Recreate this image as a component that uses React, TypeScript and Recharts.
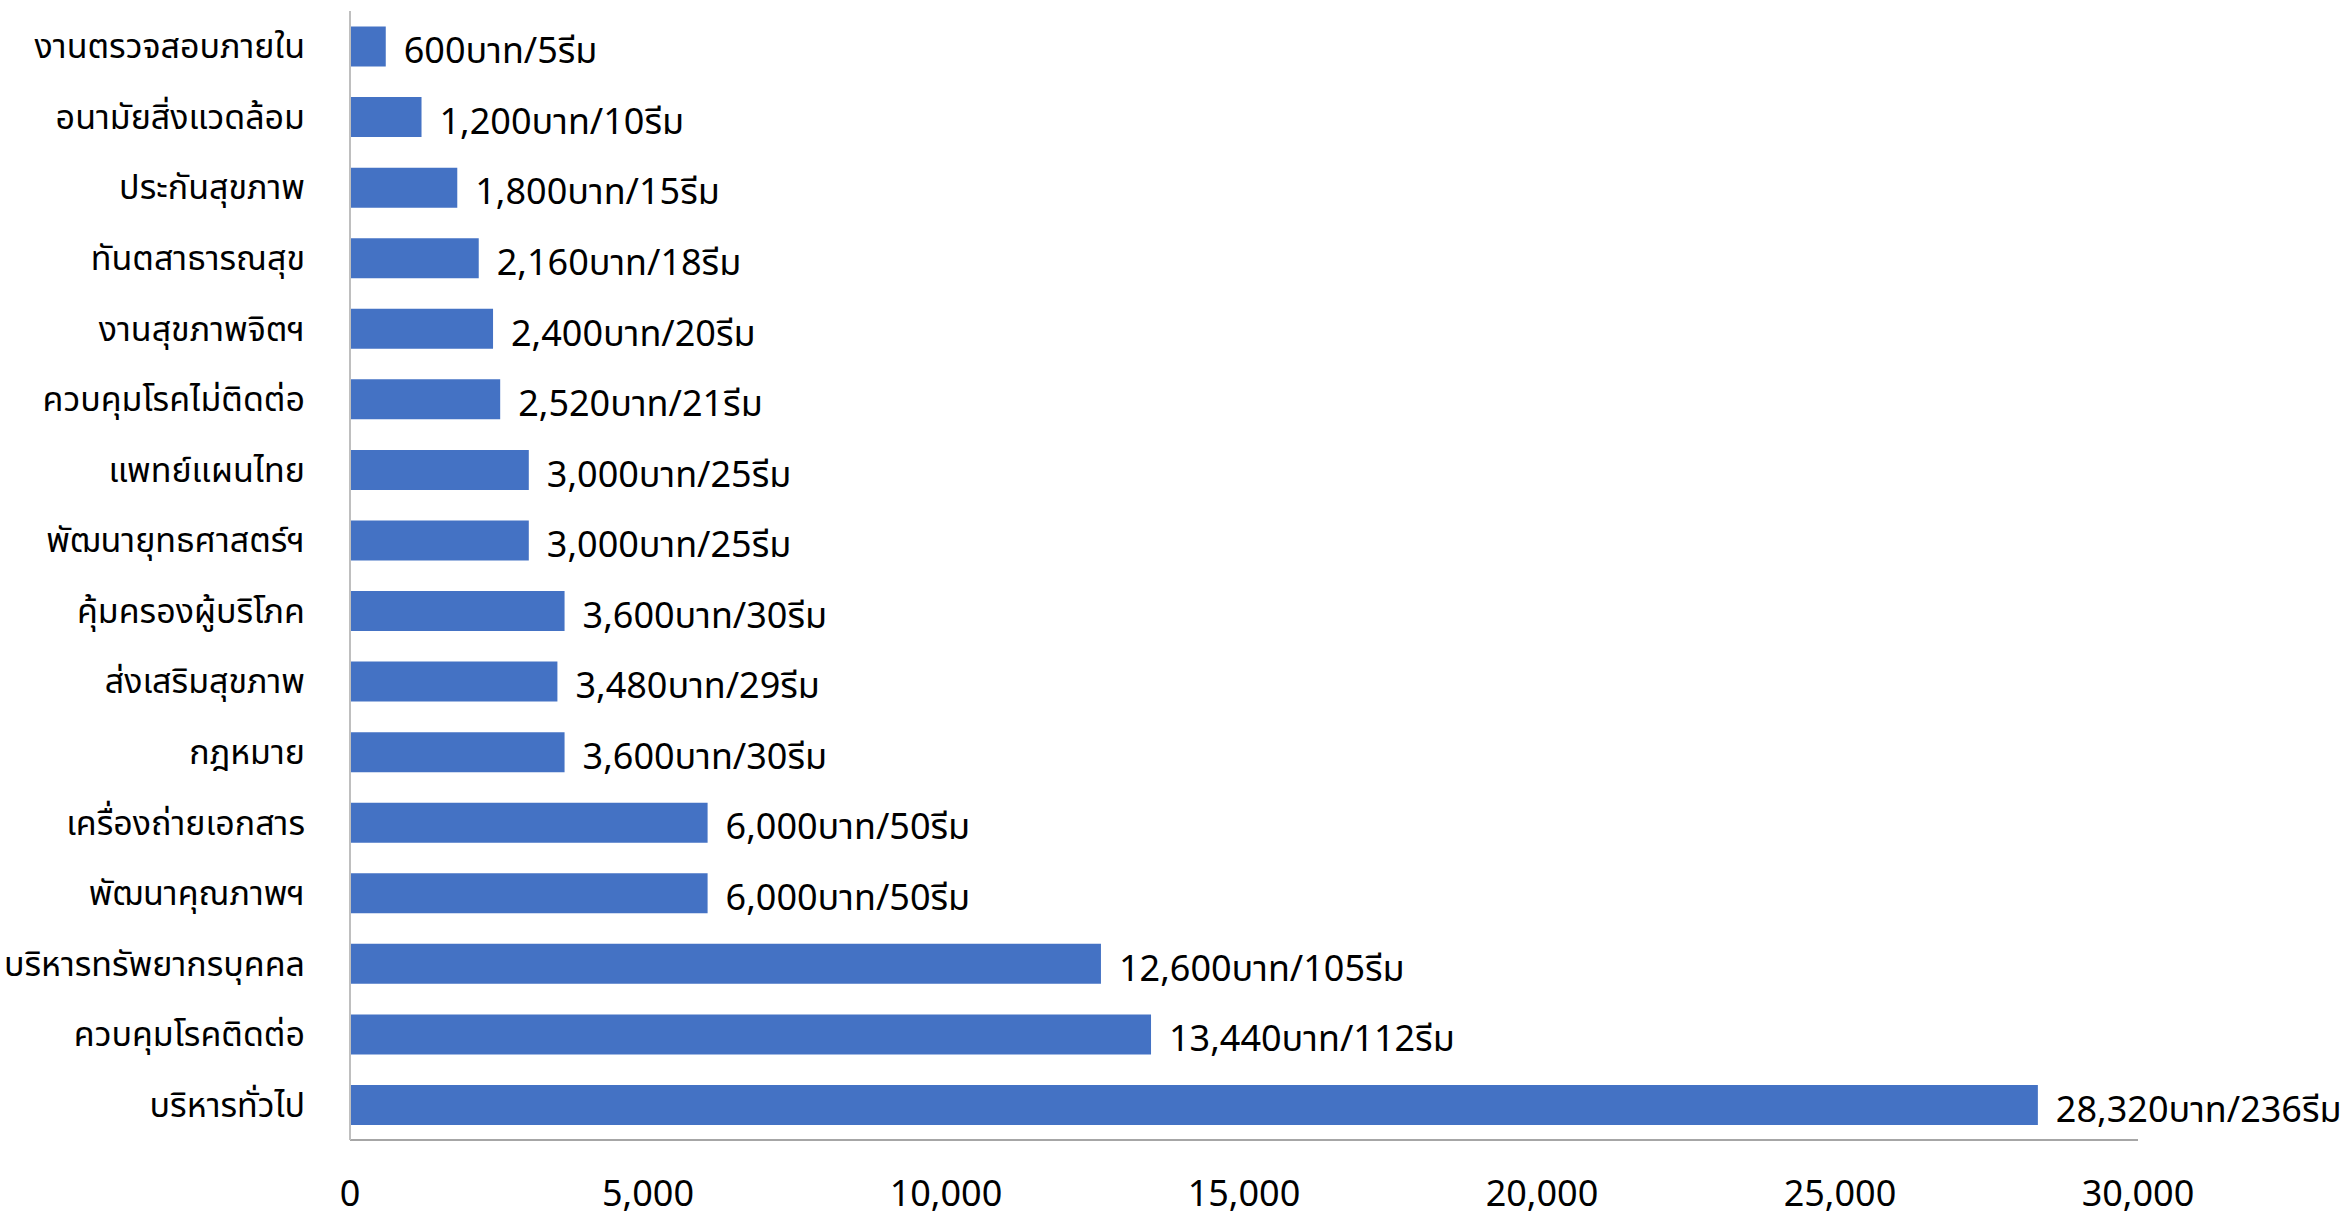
import React from 'react';
import { BarChart, Bar, XAxis, YAxis, LabelList } from 'recharts';

const categories = [
  'งานตรวจสอบภายใน',
  'อนามัยสิ่งแวดล้อม',
  'ประกันสุขภาพ',
  'ทันตสาธารณสุข',
  'งานสุขภาพจิตฯ',
  'ควบคุมโรคไม่ติดต่อ',
  'แพทย์แผนไทย',
  'พัฒนายุทธศาสตร์ฯ',
  'คุ้มครองผู้บริโภค',
  'ส่งเสริมสุขภาพ',
  'กฎหมาย',
  'เครื่องถ่ายเอกสาร',
  'พัฒนาคุณภาพฯ',
  'บริหารทรัพยากรบุคคล',
  'ควบคุมโรคติดต่อ',
  'บริหารทั่วไป',
];

const amounts = [600, 1200, 1800, 2160, 2400, 2520, 3000, 3000, 3600, 3480, 3600, 6000, 6000, 12600, 13440, 28320];
const reams = [5, 10, 15, 18, 20, 21, 25, 25, 30, 29, 30, 50, 50, 105, 112, 236];
const xTicks = [0, 5000, 10000, 15000, 20000, 25000, 30000];

const data = categories.map((name, i) => ({
  name,
  value: amounts[i],
  label: `${amounts[i].toLocaleString('en-US')}บาท/${reams[i]}รีม`,
}));

const FONT = '"Noto Sans Thai", "Noto Sans", sans-serif';

export default function App() {
  return (
    <div style={{ width: 2351, height: 1222, background: '#fff' }}>
      <style>{'body{margin:0}'}</style>
      <BarChart
        width={2351}
        height={1222}
        data={data}
        layout="vertical"
        margin={{ top: 11, right: 213, bottom: 0, left: 0 }}
        barCategoryGap="22%"
      >
        <XAxis
          type="number"
          domain={[0, 30000]}
          ticks={xTicks}
          tickFormatter={(v: number) => v.toLocaleString('en-US')}
          axisLine={{ stroke: '#a6a6a6', strokeWidth: 2 }}
          tickLine={false}
          tickSize={0}
          tickMargin={40}
          height={82}
          tick={{ fill: '#000', fontSize: 36, fontFamily: FONT }}
        />
        <YAxis
          type="category"
          dataKey="name"
          width={350}
          axisLine={{ stroke: '#bfbfbf', strokeWidth: 2 }}
          tickLine={false}
          tickSize={0}
          tickMargin={45}
          interval={0}
          tick={{ fill: '#000', fontSize: 34, fontFamily: FONT }}
        />
        <Bar dataKey="value" fill="#4472C4" isAnimationActive={false}>
          <LabelList
            dataKey="label"
            position="right"
            offset={18}
            dy={4}
            style={{ fill: '#000', fontSize: 36, fontFamily: FONT }}
          />
        </Bar>
      </BarChart>
    </div>
  );
}
